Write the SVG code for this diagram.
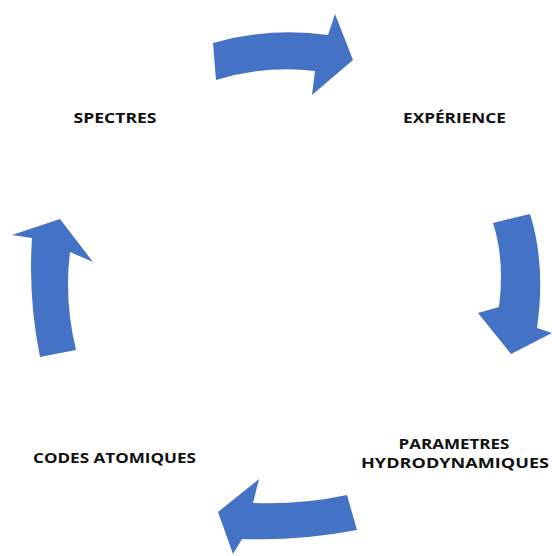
<svg xmlns="http://www.w3.org/2000/svg" width="552" height="556" viewBox="0 0 552 556">
<style>
.arrow{fill:#4472C4;stroke:none}
.lbl{font-family:"Open Sans","Noto Sans","Liberation Sans",sans-serif;font-weight:bold;font-size:15px;fill:#111;text-anchor:middle}
</style>
<rect width="552" height="556" fill="#fff"/>
<g id="connectors">
<path id="arrow-top" class="arrow" d="M213,43 Q270,27 328,35 L335,14 L353,60 L312,95 L315,71 Q265,65 216,80 Z"/>
<path id="arrow-right" class="arrow" d="M493,223 L530,214 Q546,265 537,328 L552,333 L511,354 L478,313 L499,307 Q505,260 493,223 Z"/>
<path id="arrow-bottom" class="arrow" d="M347,495 Q300,505 253,503 L259,479 L218,512 L233,554 L242,539 Q300,541 357,530 Z"/>
<path id="arrow-left" class="arrow" d="M40,357 Q28,298 32,238 L12,235 L60,219 L93,262 L70,252 Q64,300 76,350 Z"/>
</g>
<g id="spectres"><text class="lbl" x="115" y="123" textLength="83" lengthAdjust="spacingAndGlyphs">SPECTRES</text></g>
<g id="experience"><text class="lbl" x="454.5" y="123" textLength="103" lengthAdjust="spacingAndGlyphs">EXPÉRIENCE</text></g>
<g id="parametres"><text class="lbl" x="454" y="449" textLength="111" lengthAdjust="spacingAndGlyphs">PARAMETRES</text><text class="lbl" x="455" y="468" textLength="188" lengthAdjust="spacingAndGlyphs">HYDRODYNAMIQUES</text></g>
<g id="codes"><text class="lbl" x="114.5" y="463" textLength="163" lengthAdjust="spacingAndGlyphs">CODES ATOMIQUES</text></g>
</svg>
